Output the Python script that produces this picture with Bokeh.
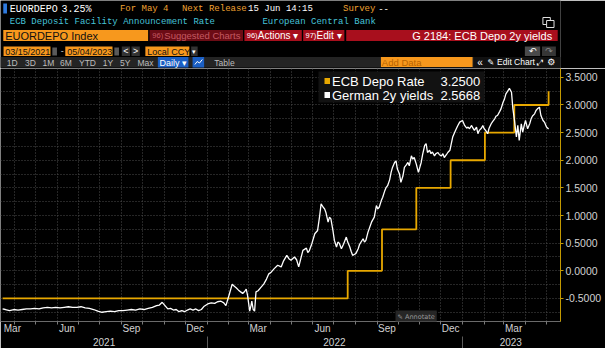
import pandas as pd
from bokeh.plotting import figure
from bokeh.layouts import column
from bokeh.models import (Range1d, FixedTicker, DatetimeAxis, DatetimeTickFormatter,
                          PrintfTickFormatter, Label, BoxAnnotation, ColumnDataSource)
from bokeh.embed import file_html
from bokeh.resources import INLINE
from bokeh.core.properties import value

# ---------------- data ----------------
yield_dates = [
    "2021-03-15", "2021-03-19", "2021-03-25", "2021-03-31", "2021-04-06", "2021-04-12", "2021-04-18",
    "2021-04-24", "2021-04-30", "2021-05-06", "2021-05-12", "2021-05-18", "2021-05-24", "2021-05-30",
    "2021-06-05", "2021-06-11", "2021-06-17", "2021-06-23", "2021-06-29", "2021-07-05", "2021-07-11",
    "2021-07-17", "2021-07-23", "2021-07-29", "2021-08-04", "2021-08-10", "2021-08-16", "2021-08-22",
    "2021-08-28", "2021-09-03", "2021-09-09", "2021-09-15", "2021-09-21", "2021-09-27", "2021-10-03",
    "2021-10-09", "2021-10-15", "2021-10-21", "2021-10-25", "2021-10-29", "2021-11-02", "2021-11-06",
    "2021-11-10", "2021-11-14", "2021-11-18", "2021-11-22", "2021-11-26", "2021-11-30", "2021-12-04",
    "2021-12-08", "2021-12-12", "2021-12-16", "2021-12-20", "2021-12-24", "2021-12-28",
    "2022-01-02", "2022-01-07", "2022-01-12", "2022-01-16", "2022-01-21", "2022-01-25", "2022-01-28",
    "2022-02-02", "2022-02-06", "2022-02-09", "2022-02-12", "2022-02-15", "2022-02-19", "2022-02-21",
    "2022-02-24", "2022-02-26", "2022-02-28", "2022-03-03", "2022-03-05", "2022-03-06", "2022-03-08",
    "2022-03-10", "2022-03-12", "2022-03-15", "2022-03-19", "2022-03-23", "2022-03-27", "2022-03-30",
    "2022-04-03", "2022-04-07", "2022-04-12", "2022-04-17", "2022-04-20", "2022-04-25", "2022-04-28",
    "2022-05-01", "2022-05-06", "2022-05-09", "2022-05-12", "2022-05-15", "2022-05-18", "2022-05-23",
    "2022-05-25", "2022-05-27", "2022-05-31", "2022-06-04", "2022-06-08", "2022-06-11", "2022-06-13",
    "2022-06-16", "2022-06-18", "2022-06-20", "2022-06-23", "2022-06-25", "2022-06-27", "2022-06-30",
    "2022-07-02", "2022-07-05", "2022-07-07", "2022-07-09", "2022-07-12", "2022-07-15", "2022-07-19",
    "2022-07-21", "2022-07-24", "2022-07-26", "2022-07-28", "2022-07-31", "2022-08-02", "2022-08-05",
    "2022-08-07", "2022-08-12", "2022-08-14", "2022-08-16", "2022-08-19", "2022-08-24", "2022-08-28",
    "2022-08-31", "2022-09-02", "2022-09-04", "2022-09-07", "2022-09-09", "2022-09-12", "2022-09-14",
    "2022-09-16", "2022-09-19", "2022-09-21", "2022-09-23", "2022-09-26", "2022-09-28", "2022-09-30",
    "2022-10-03", "2022-10-05", "2022-10-08", "2022-10-10", "2022-10-13", "2022-10-15", "2022-10-17",
    "2022-10-20", "2022-10-22", "2022-10-24", "2022-10-27", "2022-10-30", "2022-11-03", "2022-11-05",
    "2022-11-08", "2022-11-10", "2022-11-12", "2022-11-15", "2022-11-17", "2022-11-19", "2022-11-22",
    "2022-11-24", "2022-11-27", "2022-11-29", "2022-12-02", "2022-12-04", "2022-12-06", "2022-12-09",
    "2022-12-11", "2022-12-14", "2022-12-16", "2022-12-18", "2022-12-22", "2022-12-25", "2022-12-28",
    "2023-01-01", "2023-01-03", "2023-01-04", "2023-01-07", "2023-01-09", "2023-01-11", "2023-01-14",
    "2023-01-16", "2023-01-18", "2023-01-21", "2023-01-23", "2023-01-25", "2023-01-28", "2023-01-30",
    "2023-02-01", "2023-02-03", "2023-02-06", "2023-02-08", "2023-02-11", "2023-02-13", "2023-02-16",
    "2023-02-18", "2023-02-20", "2023-02-23", "2023-02-25", "2023-02-28", "2023-03-02", "2023-03-04",
    "2023-03-07", "2023-03-09", "2023-03-12", "2023-03-14", "2023-03-16", "2023-03-19", "2023-03-21",
    "2023-03-23", "2023-03-26", "2023-03-28", "2023-03-30", "2023-04-01", "2023-04-04", "2023-04-07",
    "2023-04-09", "2023-04-11", "2023-04-14", "2023-04-16", "2023-04-18", "2023-04-21", "2023-04-23",
    "2023-04-26", "2023-04-28", "2023-05-01", "2023-05-04",
]
yield_values = [
    -0.69, -0.70, -0.72, -0.70, -0.71, -0.70, -0.69,
    -0.69, -0.68, -0.69, -0.67, -0.66, -0.67, -0.66,
    -0.67, -0.66, -0.65, -0.66, -0.66, -0.65, -0.67,
    -0.68, -0.70, -0.73, -0.75, -0.74, -0.73, -0.74,
    -0.72, -0.72, -0.71, -0.70, -0.71, -0.69, -0.70,
    -0.68, -0.66, -0.63, -0.62, -0.57, -0.63, -0.69,
    -0.68, -0.71, -0.70, -0.74, -0.72, -0.74, -0.71,
    -0.69, -0.71, -0.69, -0.72, -0.70, -0.64,
    -0.60, -0.58, -0.59, -0.56, -0.55, -0.58, -0.63,
    -0.42, -0.24, -0.28, -0.31, -0.35, -0.39, -0.41,
    -0.37, -0.33, -0.45, -0.73, -0.62, -0.55, -0.70,
    -0.73, -0.38, -0.36, -0.30, -0.24, -0.15, -0.06,
    -0.02, 0.04, 0.10, 0.07, 0.17, 0.28, 0.22,
    0.19, 0.25, 0.20, 0.07, 0.22, 0.37, 0.41,
    0.33, 0.36, 0.50, 0.67, 0.73, 1.00, 1.21,
    1.15, 1.12, 1.05, 0.88, 0.97, 0.94, 0.72,
    0.55, 0.43, 0.52, 0.50, 0.40, 0.48, 0.61,
    0.52, 0.43, 0.35, 0.28, 0.30, 0.32, 0.40,
    0.48, 0.58, 0.52, 0.55, 0.70, 0.88, 0.97,
    1.18, 1.12, 1.15, 1.27, 1.33, 1.45, 1.51,
    1.54, 1.65, 1.78, 1.87, 1.96, 1.99, 1.84,
    1.75, 1.60, 1.72, 1.87, 1.92, 1.96, 1.90,
    2.08, 2.02, 2.05, 1.93, 1.78, 1.96, 2.10,
    2.27, 2.30, 2.14, 2.18, 2.12, 2.15, 2.08,
    2.12, 2.14, 2.10, 2.08, 2.12, 2.05, 2.10,
    2.14, 2.18, 2.30, 2.42, 2.54, 2.62, 2.69,
    2.72, 2.66, 2.63, 2.58, 2.60, 2.57, 2.63,
    2.58, 2.54, 2.60, 2.48, 2.54, 2.58, 2.63,
    2.57, 2.54, 2.48, 2.58, 2.66, 2.70, 2.75,
    2.80, 2.81, 2.88, 2.93, 3.05, 3.11, 3.20,
    3.26, 3.30, 3.23, 2.93, 2.75, 2.42, 2.63,
    2.36, 2.66, 2.51, 2.62, 2.72, 2.57, 2.66,
    2.75, 2.80, 2.84, 2.90, 2.93, 2.96, 2.81,
    2.72, 2.69, 2.60, 2.5668,
]

ecb_dates = ["2021-03-15", "2022-07-21", "2022-09-08", "2022-10-27",
             "2022-12-15", "2023-02-02", "2023-03-16", "2023-05-04"]
ecb_rates = [-0.50, 0.00, 0.75, 1.50, 2.00, 2.50, 3.00, 3.25]

y_tick_values = [-0.5, 0.0, 0.5, 1.0, 1.5, 2.0, 2.5, 3.0, 3.5]
y_grid_values = [-0.75, -0.5, -0.25, 0.0, 0.25, 0.5, 0.75, 1.0, 1.25, 1.5, 1.75,
                 2.0, 2.25, 2.5, 2.75, 3.0, 3.25, 3.5]
month_label_dates = ["2021-03-29", "2021-06-15", "2021-09-15", "2021-12-15", "2022-03-15",
                     "2022-06-15", "2022-09-15", "2022-12-15", "2023-03-15"]
year_label_dates = ["2021-08-07", "2022-07-02", "2023-03-11"]
year_boundaries = ["2022-01-01", "2023-01-01"]
month_starts = [d.strftime("%Y-%m-%d") for d in pd.date_range("2021-04-01", "2023-05-01", freq="MS")]

last_ecb = "3.2500"
last_yield = "2.5668"


def ms(dates):
    return [pd.Timestamp(d).value / 1e6 for d in dates]


# ---------------- styles ----------------
BG = "#000000"
ORANGE = "#f7981d"
AMBER = "#f0a030"
CYAN = "#46c3d8"
RED = "#a80f1d"
DARKRED = "#6c0c15"
GOLD = "#e8a800"
AXGOLD = "#c49a00"
GRIDC = "#4d4d4d"
SANS = "Liberation Sans"
MONO = "Liberation Mono"

# ---------------- header (terminal chrome) ----------------
h = figure(width=605, height=68, x_range=Range1d(0, 605), y_range=Range1d(68, 0),
           toolbar_location=None, output_backend="svg", min_border=0,
           background_fill_color=BG, border_fill_color=BG, outline_line_color=None)
h.axis.visible = False
h.grid.visible = False


def box(l, r, t, b, color, line=None):
    h.quad(left=[l], right=[r], top=[t], bottom=[b], fill_color=color, line_color=line)


def txt(x, y, s, color, size, font=SANS, align="left", style="normal"):
    h.text(x=[x], y=[y], text=[s], text_color=color, text_font=value(font),
           text_font_size=size, text_baseline="middle", text_align=align, text_font_style=style)


# row 1
box(3, 7, 3, 13, "#2f7be0")
txt(10, 8.5, "EUORDEPO", "#ffffff", "10px", MONO)
txt(66, 8.5, "3.25%", "#ffffff", "10px", MONO)
txt(129, 8.5, "For May 4", AMBER, "9px", MONO)
txt(196, 8.5, "Next Release", AMBER, "9px", MONO)
txt(267.5, 8.5, "15 Jun 14:15", "#ffffff", "9px", MONO)
txt(370, 8.5, "Survey", AMBER, "9px", MONO)
txt(408, 8.5, "--", "#ffffff", "9px", MONO)
# row 2
txt(10, 21.5, "ECB Deposit Facility Announcement Rate", CYAN, "9px", MONO)
txt(283, 21.5, "European Central Bank", CYAN, "9px", MONO)
box(586, 594, 17, 24, None, "#e0e0e0")
box(590, 598, 20, 27, BG, "#e0e0e0")
# row 3
box(3, 159.5, 29.5, 40.5, ORANGE)
txt(5, 35.3, "EUORDEPO Index", "#111111", "11px")
box(161, 262, 29.5, 40.5, DARKRED)
txt(164, 35.3, "96)", "#c45a62", "7.5px")
txt(177, 35.3, "Suggested Charts", "#c45a62", "9.5px")
box(263.5, 325.5, 29.5, 40.5, RED)
txt(266, 35.3, "96)", "#ffffff", "7.5px")
txt(278, 35.3, "Actions \u25be", "#ffffff", "10px")
box(327, 371.5, 29.5, 40.5, RED)
txt(329.5, 35.3, "97)", "#ffffff", "7.5px")
txt(341.5, 35.3, "Edit \u25be", "#ffffff", "10px")
box(373.5, 602, 29.5, 40.5, RED)
txt(596, 35.3, "G 2184: ECB Depo 2y yields", "#ffffff", "11px", align="right")
# row 4
box(3.3, 54, 46, 55.5, ORANGE)
txt(5, 51, "03/15/2021", "#111111", "9px")
box(56, 61, 47, 55, "#5a5a5a")
txt(65, 50.5, "-", "#cccccc", "9px")
box(70, 121, 46, 55.5, ORANGE)
txt(72, 51, "05/04/2023", "#111111", "9px")
box(123, 128, 47, 55, "#5a5a5a")
box(131, 140, 46, 55.5, "#333333")
txt(135.5, 50.8, "<", "#ffffff", "9px", align="center")
box(141.5, 150.5, 46, 55.5, "#333333")
txt(146, 50.8, ">", "#ffffff", "9px", align="center")
box(156.5, 204, 46, 55.5, ORANGE)
txt(158.5, 51, "Local CCY", "#111111", "9px")
box(206, 213, 46, 55.5, "#333333")
txt(209.5, 51, "\u25be", "#ffffff", "7px", align="center")
box(566.5, 583, 46, 55.5, "#4a4a4a")
txt(574.7, 50.8, "\u21b6", "#ffffff", "9px", "DejaVu Sans", align="center")
box(585, 600, 46, 55.5, "#363636")
txt(592.5, 50.8, "\u21b7", "#8a8a8a", "9px", "DejaVu Sans", align="center")
# row 5
box(0, 605, 56.5, 67, "#242424")
for cx, lab in [(12.7, "1D"), (32.3, "3D"), (51.7, "1M"), (70.7, "6M"), (94, "YTD"),
                (116, "1Y"), (134.7, "5Y"), (156.7, "Max"), (242, "Table")]:
    txt(cx, 62, lab, "#bdbdbd", "8.5px", align="center")
box(170, 203, 56.5, 67, "#1b5fc4")
txt(186.5, 62, "Daily \u25be", "#ffffff", "9px", align="center")
box(207.5, 220, 56.5, 67, "#1b5fc4")
h.line(x=[210, 212.5, 215, 218], y=[64, 61, 62.5, 59], line_color="#ffffff", line_width=1)
box(411, 510, 56.5, 66.5, ORANGE)
txt(412, 61.8, "Add Data", "#b86400", "9.5px")
box(511, 605, 56.5, 67, "#111111")
txt(518, 61.8, "\u00ab", "#ffffff", "10px", align="center")
txt(526, 61.8, "\u270e", "#ffffff", "8px", "DejaVu Sans")
txt(536.5, 61.8, "Edit Chart", "#ffffff", "8.5px")
txt(583, 61.8, "\u2922", "#ffffff", "8px", "DejaVu Sans", align="center")
txt(595, 61.8, "\u2699", "#ffffff", "9px", "DejaVu Sans", align="center")

# ---------------- main chart ----------------
Y_MIN, Y_MAX = -0.917, 3.66
FRAME_TOP, FRAME_H = 68, 253


def vy(py):
    return Y_MAX - (py - FRAME_TOP) * (Y_MAX - Y_MIN) / FRAME_H


p = figure(width=605, height=280, x_range=Range1d(pd.Timestamp("2021-03-12"), pd.Timestamp("2023-05-21")),
           y_range=Range1d(Y_MIN, Y_MAX), y_axis_location="right", x_axis_type="datetime",
           toolbar_location=None, output_backend="svg",
           min_border_left=0, min_border_right=45, min_border_top=0, min_border_bottom=27,
           background_fill_color=BG, border_fill_color=BG, outline_line_color=None)

# grids
p.xgrid[0].ticker = FixedTicker(ticks=ms(month_starts))
p.xgrid[0].grid_line_color = GRIDC
p.xgrid[0].grid_line_dash = "1 2"
p.ygrid[0].ticker = FixedTicker(ticks=y_grid_values)
p.ygrid[0].grid_line_color = GRIDC
p.ygrid[0].grid_line_dash = "1 2"

# right axis
ya = p.yaxis[0]
ya.ticker = FixedTicker(ticks=y_tick_values)
ya.formatter = PrintfTickFormatter(format="%.4f")
ya.axis_line_color = AXGOLD
ya.major_tick_line_color = AXGOLD
ya.major_tick_out = 3
ya.major_tick_in = 0
ya.minor_tick_line_color = None
ya.major_label_text_color = "#d2d2d2"
ya.major_label_text_font = SANS
ya.major_label_text_font_size = "10.5px"
ya.major_label_standoff = 2

# bottom axis: months
fmt_kw = {k: "%b" for k in ["microseconds", "milliseconds", "seconds", "minsec", "minutes",
                             "hourmin", "hours", "days", "months", "years"]}
xa = p.xaxis[0]
xa.ticker = FixedTicker(ticks=ms(month_label_dates), minor_ticks=ms(month_starts))
xa.formatter = DatetimeTickFormatter(**fmt_kw)
xa.axis_line_color = "#6a6a6a"
xa.major_tick_line_color = None
xa.major_tick_out = 0
xa.major_tick_in = 0
xa.minor_tick_line_color = "#7a7a7a"
xa.minor_tick_out = 3
xa.minor_tick_in = 0
xa.major_label_standoff = -2
xa.major_label_text_color = "#d2d2d2"
xa.major_label_text_font = SANS
xa.major_label_text_font_size = "10px"

# bottom axis: years
yfmt = {k: "%Y" for k in fmt_kw}
ya2 = DatetimeAxis(ticker=FixedTicker(ticks=ms(year_label_dates), minor_ticks=ms(year_boundaries)),
                   formatter=DatetimeTickFormatter(**yfmt))
ya2.axis_line_color = None
ya2.major_tick_line_color = None
ya2.major_tick_out = 0
ya2.major_tick_in = 0
ya2.minor_tick_line_color = "#5a5a5a"
ya2.minor_tick_out = 14
ya2.minor_tick_in = 0
ya2.major_label_standoff = -13
ya2.major_label_text_color = "#d2d2d2"
ya2.major_label_text_font = SANS
ya2.major_label_text_font_size = "10px"
p.add_layout(ya2, "below")

# series
ysrc = ColumnDataSource(dict(x=pd.to_datetime(yield_dates), y=yield_values))
esrc = ColumnDataSource(dict(x=pd.to_datetime(ecb_dates), y=ecb_rates))
p.step("x", "y", source=esrc, mode="after", line_color=GOLD, line_width=1.8)
p.line("x", "y", source=ysrc, line_color="#ffffff", line_width=1.3)

# legend (Bloomberg style)
p.add_layout(BoxAnnotation(left=318, right=484, left_units="screen", right_units="screen",
                           top=vy(71), bottom=vy(102), fill_color="#121212", fill_alpha=1.0,
                           line_color=None))
p.add_layout(BoxAnnotation(left=324, right=329.5, left_units="screen", right_units="screen",
                           top=vy(77.5), bottom=vy(83.5), fill_color=GOLD, fill_alpha=1.0, line_color=None))
p.add_layout(BoxAnnotation(left=324, right=329.5, left_units="screen", right_units="screen",
                           top=vy(91.5), bottom=vy(97.5), fill_color="#ffffff", fill_alpha=1.0, line_color=None))
for yy, name, val in [(80.7, "ECB Depo Rate", last_ecb), (94.5, "German 2y yields", last_yield)]:
    p.add_layout(Label(x=331.5, x_units="screen", y=vy(yy), text=name, text_color="#ffffff",
                       text_font=SANS, text_font_size="13px", text_baseline="middle"))
    p.add_layout(Label(x=440, x_units="screen", y=vy(yy), text=val, text_color="#ffffff",
                       text_font=SANS, text_font_size="13px", text_baseline="middle"))

# last-value tags on the axis
p.add_layout(Label(x=565, x_units="screen", y=ecb_rates[-1], text=last_ecb, text_color="#000000",
                   text_font=SANS, text_font_size="10.5px", text_baseline="middle",
                   background_fill_color="#f0b400", padding=2))
p.add_layout(Label(x=565, x_units="screen", y=yield_values[-1], text=last_yield, text_color="#000000",
                   text_font=SANS, text_font_size="10.5px", text_baseline="middle",
                   background_fill_color="#ffffff", padding=2))

# annotate button
p.add_layout(Label(x=395, x_units="screen", y=vy(316), text="\u270e Annotate", text_color="#9a9a9a",
                   text_font="DejaVu Sans", text_font_size="6.5px", text_baseline="middle",
                   background_fill_color="#262626", padding=2))

layout = column(h, p, spacing=0)
open("out.html", "w").write(file_html(layout, INLINE))
